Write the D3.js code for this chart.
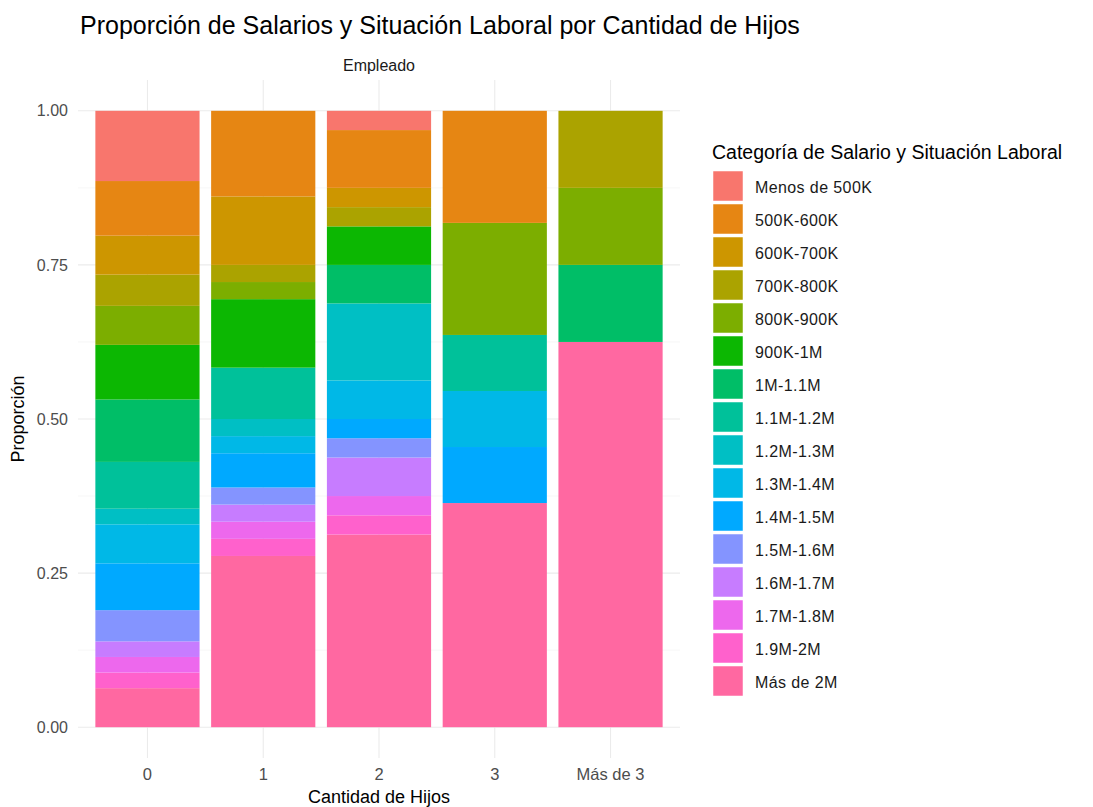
<!DOCTYPE html>
<html>
<head>
<meta charset="utf-8">
<script src="https://cdn.jsdelivr.net/npm/d3@7"></script>
<style>
  body { margin: 0; background: #fff; }
  text { font-family: "Liberation Sans", Arial, sans-serif; }
</style>
</head>
<body>
<div id="chart"></div>
<script>
// datos: conteos por cantidad de hijos, en el orden de las categorias de salario
const hijos = ["0", "1", "2", "3", "Más de 3"];
const salarios = ["Menos de 500K", "500K-600K", "600K-700K", "700K-800K", "800K-900K",
  "900K-1M", "1M-1.1M", "1.1M-1.2M", "1.2M-1.3M", "1.3M-1.4M", "1.4M-1.5M",
  "1.5M-1.6M", "1.6M-1.7M", "1.7M-1.8M", "1.9M-2M", "Más de 2M"];
const conteoHijos0 = [9, 7, 5, 4, 5, 7, 8, 6, 2, 5, 6, 4, 2, 2, 2, 5];
const conteoHijos1 = [0, 5, 4, 1, 1, 4, 0, 3, 1, 1, 2, 1, 1, 1, 1, 10];
const conteoHijos2 = [1, 3, 1, 1, 0, 2, 2, 0, 4, 2, 1, 1, 2, 1, 1, 10];
const conteoHijos3 = [0, 2, 0, 0, 2, 0, 0, 1, 0, 1, 1, 0, 0, 0, 0, 4];
const conteoMas3   = [0, 0, 0, 1, 1, 0, 1, 0, 0, 0, 0, 0, 0, 0, 0, 5];
const yTicks = [0, 0.25, 0.5, 0.75, 1];

// ggplot hue palette, 16 levels
const colores = ["#F8766D", "#E68613", "#CD9600", "#ABA300", "#7CAE00", "#0CB702",
  "#00BE67", "#00C19A", "#00BFC4", "#00B8E7", "#00A9FF", "#8494FF",
  "#C77CFF", "#ED68ED", "#FF61CC", "#FF68A1"];

const conteos = [conteoHijos0, conteoHijos1, conteoHijos2, conteoHijos3, conteoMas3];
const data = hijos.map(function(h, i) {
  const row = { hijos: h };
  salarios.forEach(function(s, j) { row[s] = conteos[i][j]; });
  return row;
});

const W = 1093, H = 807;
const panel = { left: 78, right: 680, top: 80, bottom: 758 };

const svg = d3.select("#chart").append("svg")
  .attr("width", W).attr("height", H);

const x = d3.scaleBand()
  .domain(hijos)
  .range([panel.left, panel.right])
  .paddingInner(0.1)
  .paddingOuter(0.15);

const y = d3.scaleLinear()
  .domain([-0.05, 1.05])
  .range([panel.bottom, panel.top]);

const color = d3.scaleOrdinal().domain(salarios).range(colores);

// grid
const grid = svg.append("g");
grid.selectAll(".minor")
  .data([0.125, 0.375, 0.625, 0.875])
  .join("line")
    .attr("x1", panel.left).attr("x2", panel.right)
    .attr("y1", d => y(d)).attr("y2", d => y(d))
    .attr("stroke", "#F2F2F2").attr("stroke-width", 0.6);
grid.selectAll(".majorY")
  .data(yTicks)
  .join("line")
    .attr("x1", panel.left).attr("x2", panel.right)
    .attr("y1", d => y(d)).attr("y2", d => y(d))
    .attr("stroke", "#EBEBEB").attr("stroke-width", 1.1);
grid.selectAll(".majorX")
  .data(hijos)
  .join("line")
    .attr("x1", d => x(d) + x.bandwidth() / 2).attr("x2", d => x(d) + x.bandwidth() / 2)
    .attr("y1", panel.top).attr("y2", panel.bottom)
    .attr("stroke", "#EBEBEB").attr("stroke-width", 1.1);

// stacked bars, first level on top like ggplot
const stack = d3.stack()
  .keys(salarios.slice().reverse())
  .offset(d3.stackOffsetExpand);
const series = stack(data);

svg.append("g")
  .selectAll("g")
  .data(series)
  .join("g")
    .attr("fill", d => color(d.key))
  .selectAll("rect")
  .data(d => d)
  .join("rect")
    .attr("x", d => x(d.data.hijos))
    .attr("width", x.bandwidth())
    .attr("y", d => y(d[1]))
    .attr("height", d => y(d[0]) - y(d[1]));

// axes
const yAxis = svg.append("g")
  .attr("transform", `translate(${panel.left},0)`)
  .call(d3.axisLeft(y).tickValues(yTicks).tickFormat(d3.format(".2f")).tickSize(0).tickPadding(10));
yAxis.select(".domain").remove();
yAxis.selectAll("text").attr("fill", "#4D4D4D").style("font-size", "16px");

const xAxis = svg.append("g")
  .attr("transform", `translate(0,${panel.bottom})`)
  .call(d3.axisBottom(x).tickSize(0).tickPadding(10));
xAxis.select(".domain").remove();
xAxis.selectAll("text").attr("fill", "#4D4D4D").style("font-size", "16.5px");

// titles
svg.append("text")
  .attr("x", 80).attr("y", 34)
  .style("font-size", "25px").attr("fill", "#000")
  .text("Proporción de Salarios y Situación Laboral por Cantidad de Hijos");

svg.append("text")
  .attr("x", (panel.left + panel.right) / 2).attr("y", 71)
  .attr("text-anchor", "middle")
  .style("font-size", "16px").attr("fill", "#1A1A1A")
  .text("Empleado");

svg.append("text")
  .attr("x", (panel.left + panel.right) / 2).attr("y", 803)
  .attr("text-anchor", "middle")
  .style("font-size", "18px").attr("fill", "#000")
  .text("Cantidad de Hijos");

svg.append("text")
  .attr("transform", `translate(24,${y(0.5)}) rotate(-90)`)
  .attr("text-anchor", "middle")
  .style("font-size", "18px").attr("fill", "#000")
  .text("Proporción");

// legend
const legend = svg.append("g").attr("transform", "translate(712,0)");
legend.append("text")
  .attr("x", 0).attr("y", 159)
  .style("font-size", "19.5px").attr("fill", "#000")
  .text("Categoría de Salario y Situación Laboral");

const keys = legend.selectAll(".key")
  .data(salarios)
  .join("g")
    .attr("transform", (d, i) => `translate(0,${171 + i * 33})`);
keys.append("rect")
  .attr("x", 1).attr("width", 30).attr("height", 30)
  .attr("fill", d => color(d))
  .attr("stroke", "#fff").attr("stroke-width", 0.5);
keys.append("text")
  .attr("x", 43).attr("y", 16).attr("dy", "0.35em")
  .style("font-size", "16px").style("letter-spacing", "0.4px").attr("fill", "#1A1A1A")
  .text(d => d);
</script>
</body>
</html>
